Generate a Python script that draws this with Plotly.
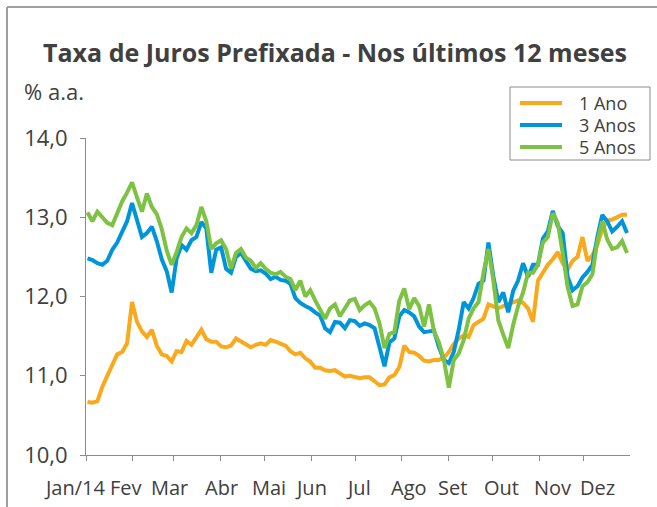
import pandas as pd
import plotly.graph_objects as go

dates = pd.date_range("2014-01-02", "2014-12-30", periods=110)

ano1 = [10.67, 10.66, 10.68, 10.86, 11.00, 11.13, 11.27, 11.30, 11.41, 11.93,
        11.68, 11.56, 11.49, 11.58, 11.38, 11.27, 11.25, 11.18, 11.31, 11.30,
        11.44, 11.39, 11.48, 11.58, 11.46, 11.43, 11.43, 11.37, 11.36, 11.38,
        11.47, 11.43, 11.40, 11.36, 11.39, 11.41, 11.39, 11.45, 11.43, 11.40,
        11.38, 11.31, 11.27, 11.29, 11.22, 11.18, 11.10, 11.10, 11.07, 11.06,
        11.07, 11.03, 10.99, 11.00, 10.98, 10.97, 10.98, 10.98, 10.93, 10.88,
        10.89, 10.98, 11.01, 11.11, 11.38, 11.30, 11.29, 11.25, 11.19, 11.18,
        11.20, 11.20, 11.23, 11.30, 11.40, 11.47, 11.51, 11.49, 11.64, 11.68,
        11.72, 11.90, 11.87, 11.85, 11.88, 11.90, 11.93, 11.95, 11.92, 11.85,
        11.68, 12.20, 12.30, 12.40, 12.47, 12.56, 12.42, 12.34, 12.45, 12.50,
        12.75, 12.45, 12.52, 12.65, 12.85, 12.96, 12.97, 13.00, 13.03, 13.03]

anos3 = [12.48, 12.46, 12.42, 12.40, 12.45, 12.59, 12.68, 12.81, 12.95, 13.18,
         12.98, 12.75, 12.80, 12.88, 12.70, 12.47, 12.32, 12.05, 12.48, 12.65,
         12.59, 12.71, 12.75, 12.94, 12.86, 12.30, 12.59, 12.62, 12.35, 12.30,
         12.50, 12.55, 12.45, 12.35, 12.32, 12.33, 12.29, 12.22, 12.25, 12.21,
         12.20, 12.16, 11.98, 11.92, 11.88, 11.85, 11.80, 11.76, 11.60, 11.55,
         11.68, 11.67, 11.60, 11.70, 11.69, 11.63, 11.66, 11.64, 11.60, 11.38,
         11.12, 11.42, 11.47, 11.75, 11.83, 11.80, 11.75, 11.62, 11.55, 11.56,
         11.57, 11.36, 11.20, 11.16, 11.30, 11.58, 11.93, 11.85, 11.98, 12.16,
         12.20, 12.68, 12.25, 11.93, 12.05, 11.80, 12.07, 12.20, 12.42, 12.25,
         12.40, 12.40, 12.73, 12.82, 13.08, 12.89, 12.80, 12.25, 12.08, 12.13,
         12.24, 12.31, 12.40, 12.75, 13.03, 12.95, 12.82, 12.88, 12.95, 12.80]

anos5 = [13.06, 12.95, 13.07, 13.00, 12.93, 12.90, 13.05, 13.20, 13.31, 13.44,
         13.25, 13.07, 13.30, 13.13, 13.04, 12.85, 12.58, 12.40, 12.56, 12.75,
         12.86, 12.80, 12.90, 13.13, 12.95, 12.60, 12.67, 12.71, 12.60, 12.35,
         12.55, 12.60, 12.49, 12.45, 12.36, 12.42, 12.35, 12.30, 12.28, 12.31,
         12.25, 12.22, 12.08, 12.20, 12.00, 12.08, 11.95, 11.84, 11.72, 11.85,
         11.90, 11.75, 11.85, 11.95, 11.97, 11.83, 11.89, 11.93, 11.85, 11.66,
         11.35, 11.53, 11.55, 11.95, 12.10, 11.84, 11.98, 11.88, 11.62, 11.90,
         11.56, 11.42, 11.20, 10.85, 11.20, 11.28, 11.45, 11.72, 11.85, 11.93,
         12.30, 12.60, 12.20, 11.70, 11.52, 11.35, 11.64, 11.88, 12.05, 12.30,
         12.30, 12.40, 12.68, 12.75, 13.05, 12.93, 12.55, 12.12, 11.88, 11.90,
         12.13, 12.18, 12.28, 12.70, 12.95, 12.72, 12.60, 12.62, 12.70, 12.55]

series_names = ["1 Ano", "3 Anos", "5 Anos"]
series_colors = ["#F9A91B", "#0095DA", "#7DC243"]

month_starts = [d.strftime("%Y-%m-%d")
                for d in pd.date_range("2014-01-01", "2014-12-01", freq="MS")]
month_labels = ["Jan/14", "Fev", "Mar", "Abr", "Mai", "Jun", "Jul", "Ago",
                "Set", "Out", "Nov", "Dez"]
label_dates = ["2014-01-02", "2014-02-05", "2014-03-06", "2014-04-10",
               "2014-05-12", "2014-06-09", "2014-07-11", "2014-08-14",
               "2014-09-12", "2014-10-15", "2014-11-18", "2014-12-18"]
y_ticks = [10, 11, 12, 13, 14]
y_labels = ["10,0", "11,0", "12,0", "13,0", "14,0"]

TXT = "#404040"
AX = "#8c8c8c"
FONT = "Open Sans, Noto Sans, DejaVu Sans, sans-serif"

W, H = 657, 507
ML, MR, MT, MB = 86, 27, 138, 52
PW, PH = W - ML - MR, H - MT - MB
X_RANGE = ["2014-01-01", "2015-01-01"]


def fx(px):
    return (px - ML) / PW


def fy(py):
    return (H - MB - py) / PH


fig = go.Figure()
for name, vals, col in zip(series_names, [ano1, anos3, anos5], series_colors):
    fig.add_trace(go.Scatter(x=dates, y=vals, mode="lines", name=name,
                             line=dict(color=col, width=4), showlegend=False))

shapes = [
    dict(type="line", xref="paper", yref="paper", x0=fx(7), x1=fx(700),
         y0=fy(7), y1=fy(7), line=dict(color="#a0a0a0", width=2)),
    dict(type="line", xref="paper", yref="paper", x0=fx(7), x1=fx(7),
         y0=fy(7), y1=fy(560), line=dict(color="#a0a0a0", width=2)),
    dict(type="rect", xref="paper", yref="paper", x0=fx(510), x1=fx(650),
         y0=fy(87), y1=fy(160), line=dict(color=AX, width=1),
         fillcolor="white"),
]
annotations = [
    dict(text="<b>Taxa de Juros Prefixada - Nos últimos 12 meses</b>",
         xref="paper", yref="paper", x=fx(335), y=fy(52),
         xanchor="center", yanchor="middle", showarrow=False,
         font=dict(size=25, color=TXT, family=FONT)),
    dict(text="% a.a.", xref="paper", yref="paper", x=fx(22), y=fy(91),
         xanchor="left", yanchor="middle", showarrow=False,
         font=dict(size=22, color=TXT, family=FONT)),
]
# month labels (Excel-style placement, slightly off the month ticks)
for d, lab in zip(label_dates, month_labels):
    annotations.append(dict(text=lab, xref="x", yref="paper", x=d,
                            y=fy(487), xshift=-12, xanchor="center",
                            yanchor="middle", showarrow=False,
                            font=dict(size=20, color=TXT, family=FONT)))
for i, (name, col) in enumerate(zip(series_names, series_colors)):
    row = 103 + 22 * i
    shapes.append(dict(type="line", xref="paper", yref="paper",
                       x0=fx(520), x1=fx(562), y0=fy(row), y1=fy(row),
                       line=dict(color=col, width=4)))
    annotations.append(dict(text=name, xref="paper", yref="paper",
                            x=fx(577), y=fy(row), xanchor="left",
                            yanchor="middle", showarrow=False,
                            font=dict(size=18, color=TXT, family=FONT)))

fig.update_layout(
    width=W, height=H,
    margin=dict(l=ML, r=MR, t=MT, b=MB, autoexpand=False),
    paper_bgcolor="white", plot_bgcolor="white",
    font=dict(family=FONT, color=TXT, size=18),
    showlegend=False,
    xaxis=dict(range=X_RANGE, tickmode="array", tickvals=month_starts,
               showticklabels=False, ticks="outside", ticklen=5,
               tickcolor=AX, automargin=False,
               showline=True, linecolor=AX, linewidth=1,
               showgrid=False, zeroline=False),
    yaxis=dict(range=[10, 14], tickvals=y_ticks, ticktext=y_labels,
               ticks="outside", ticklen=5, tickcolor=AX, automargin=False,
               showline=True, linecolor=AX, linewidth=1,
               showgrid=False, zeroline=False, ticklabelstandoff=8,
               tickfont=dict(size=22, color=TXT)),
    annotations=annotations,
    shapes=shapes,
)

fig.write_html("out.html",
               config={"displayModeBar": False},
               post_script="document.body.style.margin='0';"
                           "document.body.style.overflow='hidden';")
